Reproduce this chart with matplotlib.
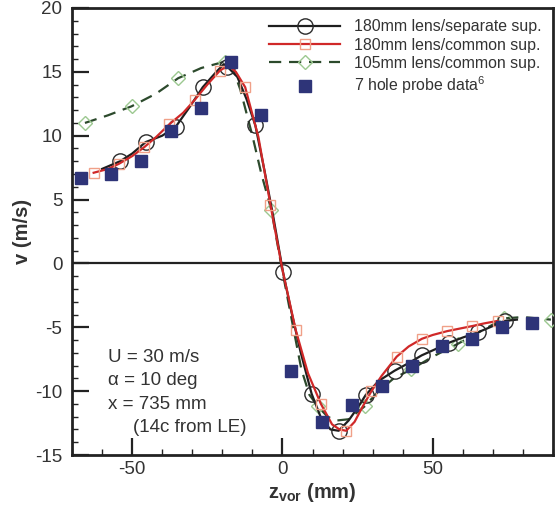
import matplotlib
matplotlib.use("Agg")
import matplotlib.pyplot as plt
from matplotlib.ticker import MultipleLocator

plt.rcParams['font.family'] = ['Liberation Sans', 'DejaVu Sans']
plt.rcParams['mathtext.fontset'] = 'custom'
plt.rcParams['mathtext.rm'] = 'Liberation Sans'
plt.rcParams['mathtext.bf'] = 'Liberation Sans:bold'
plt.rcParams['mathtext.it'] = 'Liberation Sans:italic'
plt.rcParams['axes.unicode_minus'] = False

# ---- data ----
# 180mm lens / separate sup.
sep_x = [-60, -54, -50, -45.5, -40, -35.5, -31, -26.5, -22, -19.5, -18.3, -15, -12, -9, -6, -3, 0.2,
         3, 6, 9.7, 13, 16, 18.7, 22, 25, 27.7, 32, 37.3, 42, 46.3, 51, 55.5, 60, 65, 70, 74, 78]
sep_y = [7.4, 8.0, 8.6, 9.5, 10.0, 10.7, 12.2, 13.8, 15.0, 15.6, 15.4, 14.6, 12.9, 10.8, 7.3, 3.6, -0.7,
         -3.8, -6.9, -10.2, -12.2, -13.0, -13.1, -12.3, -11.3, -10.3, -9.2, -8.4, -7.8, -7.2, -6.7, -6.2,
         -5.8, -5.4, -4.9, -4.5, -4.4]
sep_marks = [-54, -45.5, -35.5, -26.5, -18.3, -9, 0.2, 9.7, 18.7, 27.7, 37.3, 46.3, 55.5, 65, 74]

# 180mm lens / common sup.
com_x = [-62.8, -58, -54.4, -50, -46, -42, -37.6, -33, -29.2, -25, -20.8, -18, -15.5, -12.4, -8, -4, 0,
         4.4, 8.5, 12.8, 16.5, 19, 21.2, 24, 26.7, 29.6, 33, 38, 42, 46.4, 50, 54.8, 59, 63.2, 67, 71.6]
com_y = [7.1, 7.4, 7.8, 8.4, 9.1, 9.9, 10.9, 11.8, 12.8, 14.0, 15.1, 15.5, 15.0, 13.8, 9.9, 4.6, -0.5,
         -5.2, -8.6, -11.0, -12.6, -13.0, -13.1, -12.4, -11.2, -10.0, -8.8, -7.3, -6.5, -5.9, -5.6, -5.3,
         -5.1, -4.9, -4.7, -4.5]
com_marks = [-62.8, -54.4, -46, -37.6, -29.2, -20.8, -12.4, -4, 4.4, 12.8, 21.2, 29.6, 38, 46.4, 54.8,
             63.2, 71.6]

# 105mm lens / common sup.
l105_x = [-65.7, -58, -50.2, -42, -34.7, -27, -19.2, -17, -14, -10, -7, -3.7, -0.5, 3, 6.3, 9, 11.8,
          15, 18, 22, 27.3, 32, 37, 42.8, 50, 58.3, 66, 73.8, 80, 89.3]
l105_y = [11.0, 11.6, 12.3, 13.3, 14.5, 15.3, 15.8, 15.6, 13.6, 10.0, 7.0, 4.2, 0.0, -4.3, -8.3, -10.3,
          -11.2, -12.0, -12.3, -12.2, -11.2, -10.0, -9.0, -8.3, -7.3, -6.3, -5.3, -4.3, -4.2, -4.4]
l105_marks = [-65.7, -50.2, -34.7, -19.2, -3.7, 11.8, 27.3, 42.8, 58.3, 73.8, 89.3]

# 7 hole probe data
probe_x = [-67, -57, -47, -37, -27, -17, -7, 3, 13, 23, 33, 43, 53, 63, 73, 83]
probe_y = [6.7, 7.0, 8.0, 10.4, 12.2, 15.8, 11.6, -8.4, -12.4, -11.1, -9.6, -8.0, -6.5, -5.9, -5.0, -4.7]

labels = ["180mm lens/separate sup.", "180mm lens/common sup.",
          "105mm lens/common sup.", "7 hole probe data$^{6}$"]
notes = ["U = 30 m/s", "\u03b1 = 10 deg", "x = 735 mm", "(14c from LE)"]

def idx(xs, marks):
    return [xs.index(m) for m in marks]

TXT = '#333333'
fig = plt.figure(figsize=(5.6, 5.08), dpi=100)
ax = fig.add_axes([0.1286, 0.1043, 0.8589, 0.88])

ax.axhline(0, color='#222222', lw=1.6, zorder=1)

h1, = ax.plot(sep_x, sep_y, '-', color='#1e1e1e', lw=1.6, marker='o', ms=11,
              mfc='none', mec='#2a2a2a', mew=1.0, markevery=idx(sep_x, sep_marks), zorder=4)
h2, = ax.plot(com_x, com_y, '-', color='#d02828', lw=1.6, marker='s', ms=7,
              mfc='none', mec='#f0a088', mew=1.0, markevery=idx(com_x, com_marks), zorder=5)
h3, = ax.plot(l105_x, l105_y, '--', color='#2c4a2c', lw=1.6, dashes=(5.5, 3.5), marker='D', ms=7.5,
              mfc='none', mec='#9cc890', mew=1.0, markevery=idx(l105_x, l105_marks), zorder=3)
h4, = ax.plot(probe_x, probe_y, 's', color='#2e3478', ms=9, ls='none', zorder=6)

ax.set_xlim(-70, 90)
ax.set_ylim(-15, 20)
ax.xaxis.set_major_locator(MultipleLocator(50))
ax.xaxis.set_minor_locator(MultipleLocator(10))
ax.yaxis.set_major_locator(MultipleLocator(5))
ax.yaxis.set_minor_locator(MultipleLocator(1))
ax.tick_params(which='both', direction='in', top=False, right=False, colors='#222222',
               labelcolor=TXT, labelsize=13.5)
ax.tick_params(which='major', length=12, width=1.6)
ax.tick_params(which='minor', length=4, width=1.0)
ax.tick_params(axis='y', pad=7)
ax.tick_params(axis='x', pad=4.5)
for s in ax.spines.values():
    s.set_linewidth(2.0)
    s.set_color('#222222')

ax.set_xlabel(r'$\mathbf{z}_{\mathbf{vor}}$ (mm)', fontsize=14.5, fontweight='bold', color=TXT,
              labelpad=2)
ax.set_ylabel('v (m/s)', fontsize=14.5, fontweight='bold', color=TXT)
ax.yaxis.set_label_coords(-0.083, 0.5)

leg = ax.legend([h1, h2, h3, h4], labels, loc='upper right', bbox_to_anchor=(1.0, 1.0),
                frameon=False, fontsize=11.4, handlelength=4.5, handletextpad=0.9,
                labelspacing=0.22, borderpad=0.2, labelcolor=TXT)

note_x = [0.075, 0.075, 0.075, 0.127]
for i, t in enumerate(notes):
    ax.text(note_x[i], 0.219 - i * 0.0527, t, transform=ax.transAxes, fontsize=13.5, color=TXT,
            va='center', ha='left')

fig.savefig('out.png', dpi=100, facecolor='white')
